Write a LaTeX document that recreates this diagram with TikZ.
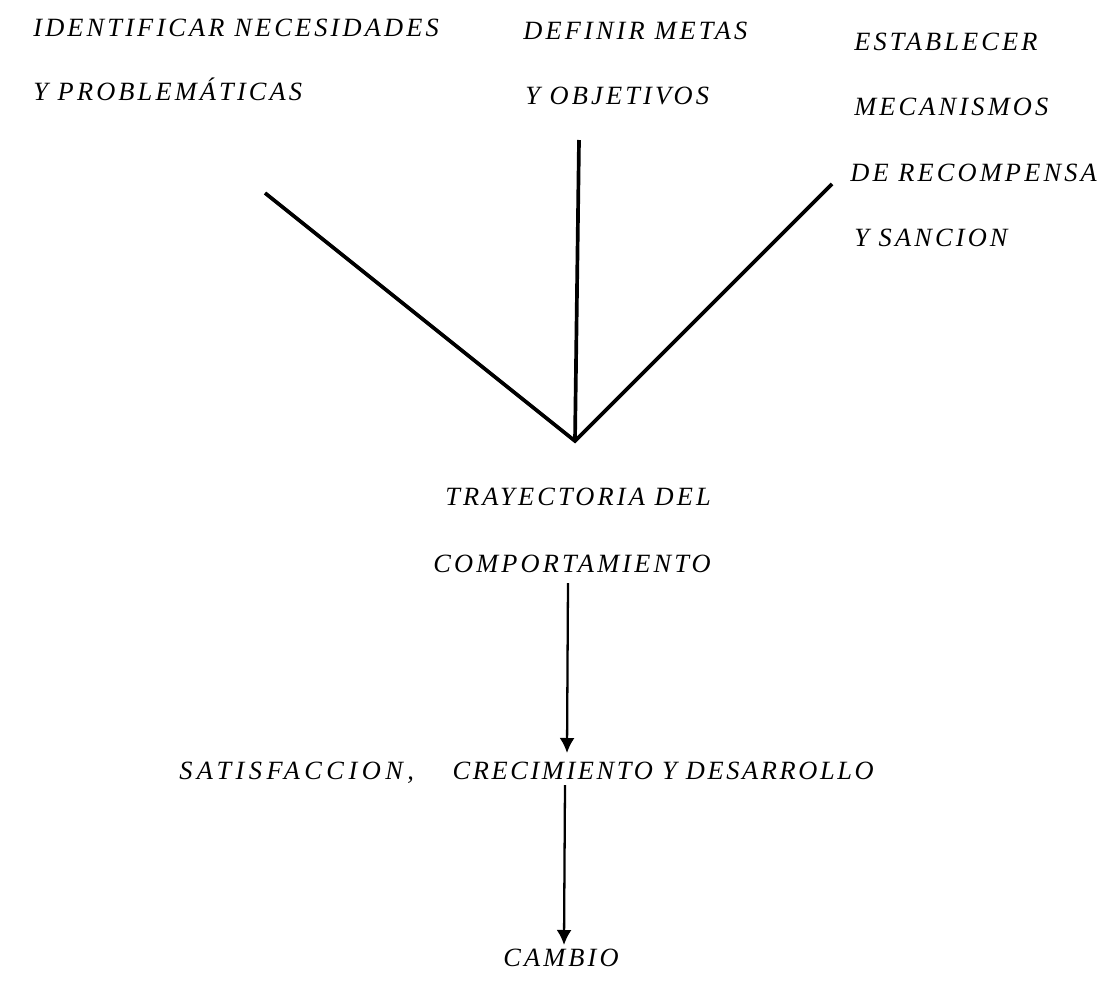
\documentclass[tikz,border=0pt]{standalone}
\usepackage{fontspec}
\setmainfont{Liberation Serif}[LetterSpace=12]
\usetikzlibrary{arrows.meta}

\tikzset{
  lbl/.style={anchor=base west,inner sep=0pt,font=\itshape\fontsize{15}{15}\selectfont},
  vline/.style={line width=2.1pt,line join=miter},
  flow/.style={line width=1.3pt,-{Latex[length=3mm,width=3mm]}}
}

\begin{document}
\begin{tikzpicture}[x=0.2mm,y=-0.2mm]
\useasboundingbox (0,0) rectangle (1118,991);
\foreach \n/\x/\l in{
id1/{(33,36)}/{IDENTIFICAR NECESIDADES},
id2/{(33,100)}/{Y PROBLEMÁTICAS},
def1/{(523,39)}/{DEFINIR METAS},
def2/{(525,104)}/{Y OBJETIVOS},
est1/{(854,50)}/{ESTABLECER},
est2/{(854,115)}/{MECANISMOS},
est3/{(850,181)}/{DE RECOMPENSA},
est4/{(854,246)}/{Y SANCION},
tray1/{(445,505)}/{TRAYECTORIA DEL},
tray2/{(433,572)}/{COMPORTAMIENTO},
sat/{(179,779)}/{{\addfontfeature{LetterSpace=17}SATISFACCION,}\hspace{22pt}{\addfontfeature{LetterSpace=10}CRECIMIENTO Y DESARROLLO}},
cam/{(503,966)}/{CAMBIO}
}
{
        \node[lbl] (\n) at \x {\l};
    }
\coordinate (vtx) at (575,441);
\coordinate (lt) at (265,193);
\coordinate (mt) at (579,140);
\coordinate (rt) at (832,184);
\coordinate (a1) at (568,583);
\coordinate (a2) at (567,753);
\coordinate (a3) at (565,785);
\coordinate (a4) at (564,945);
\draw[vline] (lt) -- (vtx) -- (rt);
\draw[vline] (mt) -- (vtx);
\draw[flow] (a1) -- (a2);
\draw[flow] (a3) -- (a4);
\end{tikzpicture}
\end{document}
